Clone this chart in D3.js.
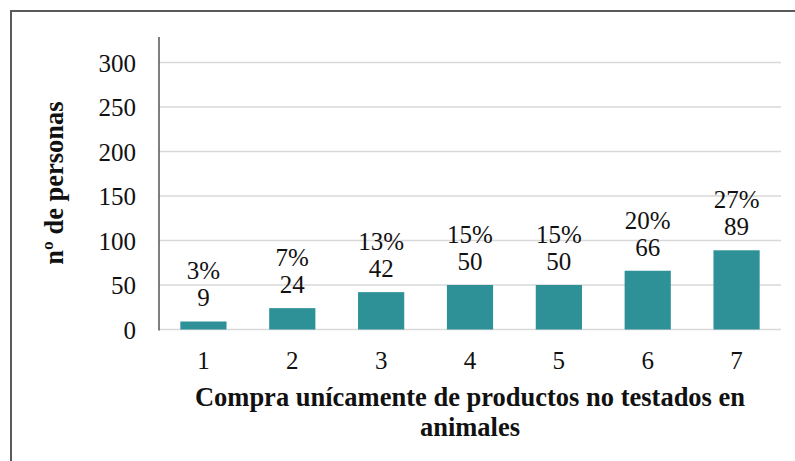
<!DOCTYPE html>
<html>
<head>
<meta charset="utf-8">
<script src="https://cdn.jsdelivr.net/npm/d3@7"></script>
<style>
  html, body { margin: 0; padding: 0; background: #fff; }
  svg { display: block; }
</style>
</head>
<body>
<svg id="chart" width="795" height="461"></svg>
<script>
// Number of people per rating (1–7) and share of the total
const categories = ["1", "2", "3", "4", "5", "6", "7"];
const values = [9, 24, 42, 50, 50, 66, 89];
const percents = ["3%", "7%", "13%", "15%", "15%", "20%", "27%"];
const yTicks = [0, 50, 100, 150, 200, 250, 300];

const svg = d3.select("#chart");
const W = 795, H = 461;
const margin = { left: 159, right: 14, top: 37, bottom: 131 };
const plotW = W - margin.left - margin.right;
const FONT = "'Liberation Serif', 'Times New Roman', serif";

// frame (top and left edge)
svg.append("path")
  .attr("d", `M11,${H} L11,11 L${W},11`)
  .attr("fill", "none")
  .attr("stroke", "#5a5a5a")
  .attr("stroke-width", 2);

const x = d3.scaleBand()
  .domain(categories)
  .range([margin.left, margin.left + plotW])
  .paddingInner(0.48)
  .paddingOuter(0.24);

const y = d3.scaleLinear()
  .domain([0, 300])
  .range([329.5, 62.5]);

// horizontal gridlines
svg.append("g")
  .selectAll("line")
  .data(yTicks)
  .join("line")
  .attr("x1", margin.left)
  .attr("x2", margin.left + plotW)
  .attr("y1", d => y(d))
  .attr("y2", d => y(d))
  .attr("stroke", "#d9d9d9")
  .attr("stroke-width", 1.5);

// y axis
const yAxis = svg.append("g")
  .attr("transform", `translate(${margin.left},0)`)
  .call(d3.axisLeft(y).tickValues(yTicks).tickSize(0).tickPadding(23));
yAxis.select(".domain").remove();
yAxis.selectAll("text")
  .attr("font-family", FONT)
  .attr("font-size", 25)
  .attr("fill", "#111")
  .attr("dy", "0.34em");

svg.append("line")
  .attr("x1", margin.left).attr("x2", margin.left)
  .attr("y1", margin.top).attr("y2", y(0) + 1)
  .attr("stroke", "#555").attr("stroke-width", 1.5);

// x axis labels
const xAxis = svg.append("g")
  .attr("transform", `translate(0,${y(0)})`)
  .call(d3.axisBottom(x).tickSize(0).tickPadding(22));
xAxis.select(".domain").remove();
xAxis.selectAll("text")
  .attr("font-family", FONT)
  .attr("font-size", 25)
  .attr("fill", "#111");

// bars
svg.append("g")
  .selectAll("rect")
  .data(values)
  .join("rect")
  .attr("x", (d, i) => x(categories[i]))
  .attr("width", x.bandwidth())
  .attr("y", d => y(d))
  .attr("height", d => y(0) - y(d))
  .attr("fill", "#2f9198");

// data labels: percent on top, count below
const labels = svg.append("g")
  .attr("font-family", FONT)
  .attr("font-size", 25)
  .attr("fill", "#111")
  .attr("text-anchor", "middle");
labels.selectAll("text.count")
  .data(values)
  .join("text")
  .attr("class", "count")
  .attr("x", (d, i) => x(categories[i]) + x.bandwidth() / 2)
  .attr("y", d => y(d) - 15)
  .text(d => d);
labels.selectAll("text.pct")
  .data(values)
  .join("text")
  .attr("class", "pct")
  .attr("x", (d, i) => x(categories[i]) + x.bandwidth() / 2)
  .attr("y", d => y(d) - 42)
  .text((d, i) => percents[i]);

// axis titles
svg.append("text")
  .attr("transform", "translate(63,183) rotate(-90)")
  .attr("text-anchor", "middle")
  .attr("font-family", FONT)
  .attr("font-weight", "bold")
  .attr("font-size", 26.5)
  .attr("fill", "#111")
  .text("nº de personas");

const xt = svg.append("text")
  .attr("text-anchor", "middle")
  .attr("font-family", FONT)
  .attr("font-weight", "bold")
  .attr("font-size", 26.5)
  .attr("fill", "#111");
xt.append("tspan").attr("x", 470).attr("y", 406)
  .text("Compra unícamente de productos no testados en");
xt.append("tspan").attr("x", 470).attr("y", 436)
  .text("animales");
</script>
</body>
</html>
